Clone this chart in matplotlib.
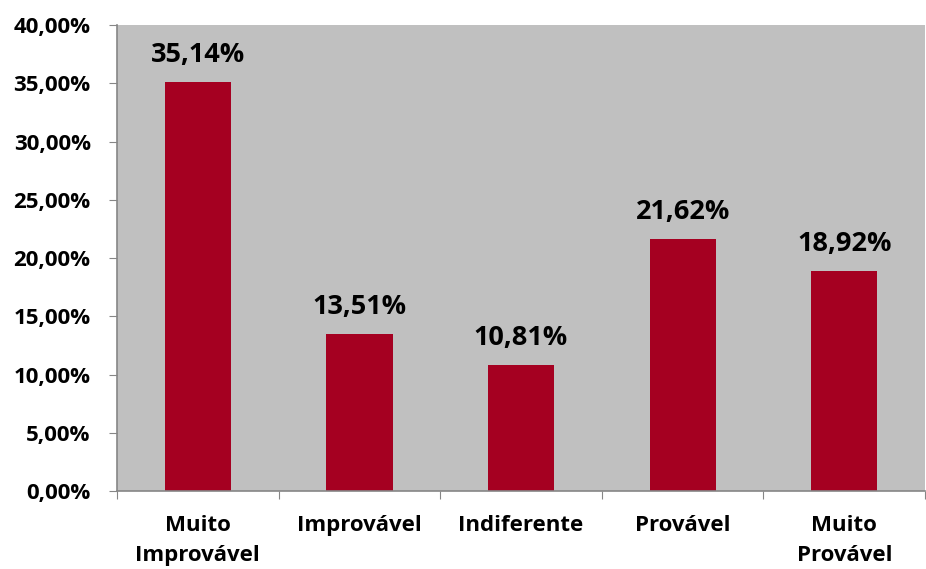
import matplotlib.pyplot as plt
from matplotlib.ticker import FuncFormatter

categories = ["Muito\nImprovável", "Improvável", "Indiferente", "Provável", "Muito\nProvável"]
values = [35.14, 13.51, 10.81, 21.62, 18.92]

plt.rcParams['font.family'] = ['Open Sans', 'DejaVu Sans']
plt.rcParams['font.weight'] = 'bold'

fig = plt.figure(figsize=(9.26, 5.69), dpi=100)
ax = fig.add_axes([0.1264, 0.1371, 0.8726, 0.8189])
ax.set_facecolor('#C0C0C0')

x = range(len(categories))
bars = ax.bar(x, values, width=0.41, color='#A50021', zorder=2)

for xi, v in zip(x, values):
    ax.annotate(f"{v:.2f}%".replace('.', ','), (xi, v), xytext=(0, 10),
                textcoords='offset points', ha='center', va='bottom',
                fontsize=19.5, fontweight='bold')

ax.set_xlim(-0.5, len(categories) - 0.5)
ax.set_ylim(0, 40)
ax.set_yticks(range(0, 41, 5))
ax.yaxis.set_major_formatter(FuncFormatter(lambda v, p: f"{v:.2f}%".replace('.', ',')))

ax.set_xticks([i - 0.5 for i in range(len(categories) + 1)])
ax.set_xticklabels([])
ax.set_xticks(list(x), minor=True)
ax.set_xticklabels(categories, minor=True, fontsize=16, fontweight='bold', linespacing=1.6)
ax.tick_params(axis='x', which='minor', length=0, pad=17)
ax.tick_params(axis='x', which='major', length=6, color='#868686', direction='out')
ax.tick_params(axis='y', length=6, color='#868686', labelsize=16, pad=13)

for side in ['top', 'right']:
    ax.spines[side].set_visible(False)
for side in ['left', 'bottom']:
    ax.spines[side].set_color('#868686')
    ax.spines[side].set_linewidth(1.2)

fig.savefig('out.png', dpi=100)
